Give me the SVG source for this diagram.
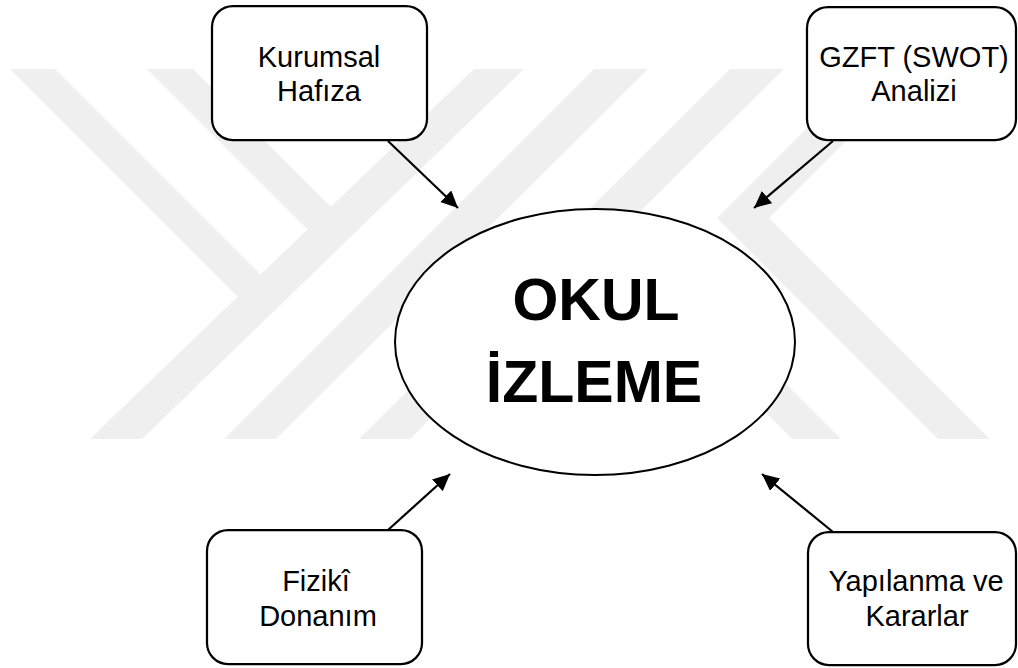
<svg xmlns="http://www.w3.org/2000/svg" width="1018" height="668" viewBox="0 0 1018 668">
  <defs>
    <marker id="arrowhead" markerUnits="userSpaceOnUse" markerWidth="20" markerHeight="18" refX="17" refY="8" orient="auto">
      <path d="M0,0 L17,8 L0,16 Z" fill="#000"/>
    </marker>
    <style>
      .wm { fill: #efefef; }
      .box { fill: #ffffff; stroke: #000000; stroke-width: 2.25; }
      .lbl { font-family: "Liberation Sans", Arial, sans-serif; font-size: 29px; fill: #000; text-anchor: middle; }
      .big { font-family: "Liberation Sans", Arial, sans-serif; font-size: 59px; font-weight: bold; fill: #000; text-anchor: middle; }
      .conn { stroke: #000; stroke-width: 2.2; fill: none; marker-end: url(#arrowhead); }
    </style>
  </defs>

  <rect x="0" y="0" width="1018" height="668" fill="#ffffff"/>

  <!-- background emblem: pale diagonal bands -->
  <g id="emblem">
    <polygon class="wm" points="474,69 524,69 142,439 90,439"/>
    <polygon class="wm" points="594,69 648,69 276,439 224,439"/>
    <polygon class="wm" points="730,69 784,69 410,439 359,439"/>
    <polygon class="wm" points="10,69 55,69 283,297 238,297"/>
    <polygon class="wm" points="147,69 193,69 336,212 312,234"/>
    <polygon class="wm" points="792,439 841,439 632,230 583,230"/>
    <polygon class="wm" points="866,69 918,69 769,218 990,439 938,439 717,218"/>
  </g>

  <g id="node-center">
    <ellipse cx="595" cy="342" rx="200" ry="133" fill="#ffffff" stroke="#000" stroke-width="2"/>
    <text class="big" x="596" y="320">OKUL</text>
    <text class="big" x="594" y="402">İZLEME</text>
  </g>

  <g id="node-kurumsal">
    <rect class="box" x="212" y="6" width="215" height="134" rx="21" ry="21"/>
    <text class="lbl" x="319" y="67">Kurumsal</text>
    <text class="lbl" x="319" y="101">Hafıza</text>
  </g>

  <g id="node-gzft">
    <rect class="box" x="807" y="7" width="209" height="133" rx="21" ry="21"/>
    <text class="lbl" x="914" y="67">GZFT (SWOT)</text>
    <text class="lbl" x="914" y="101">Analizi</text>
  </g>

  <g id="node-fiziki">
    <rect class="box" x="207" y="530" width="215" height="134" rx="21" ry="21"/>
    <text class="lbl" x="316" y="591">Fizikî</text>
    <text class="lbl" x="318" y="626">Donanım</text>
  </g>

  <g id="node-yapilanma">
    <rect class="box" x="808" y="532" width="208" height="133" rx="21" ry="21"/>
    <text class="lbl" x="916" y="591">Yapılanma ve</text>
    <text class="lbl" x="917" y="626">Kararlar</text>
  </g>

  <g id="connectors">
    <line class="conn" x1="388" y1="141" x2="458" y2="208"/>
    <line class="conn" x1="833" y1="141" x2="754" y2="208"/>
    <line class="conn" x1="388" y1="530" x2="450" y2="474"/>
    <line class="conn" x1="833" y1="532" x2="762" y2="474"/>
  </g>
</svg>
